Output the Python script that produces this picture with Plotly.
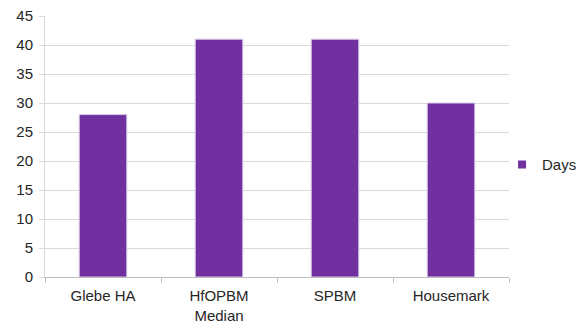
import plotly.graph_objects as go

categories = ["Glebe HA", "HfOPBM<br>Median", "SPBM", "Housemark"]
days = [28, 41, 41, 30]
series_name = "Days"
y_ticks = [0, 5, 10, 15, 20, 25, 30, 35, 40, 45]

fig = go.Figure()
fig.add_trace(go.Bar(
    x=categories, y=days, name=series_name,
    marker=dict(color="#7030A0", line=dict(color="#D9C8E6", width=1)),
    width=0.41, showlegend=False,
))
# legend entry with small square swatch
fig.add_trace(go.Scatter(
    x=[None], y=[None], mode="markers", name=series_name,
    marker=dict(symbol="square", size=8, color="#7030A0"),
    showlegend=True,
))

fig.update_layout(
    width=583, height=326,
    margin=dict(l=45, r=74, t=16, b=49, autoexpand=False),
    paper_bgcolor="white", plot_bgcolor="white",
    font=dict(family="Liberation Sans, Arial, sans-serif", size=15, color="#262626"),
    showlegend=True,
    legend=dict(x=0.985, y=0.43, xanchor="left", yanchor="middle",
                font=dict(size=15, color="#262626"), itemwidth=30,
                bgcolor="rgba(0,0,0,0)"),
)
fig.update_xaxes(
    showline=True, linecolor="#BFBFBF", linewidth=1,
    ticks="outside", tickson="boundaries", ticklen=5, tickcolor="#BFBFBF",
    showgrid=False, tickfont=dict(size=15), ticklabelstandoff=5,
)
fig.update_yaxes(
    range=[0, 45], tickvals=y_ticks,
    showline=True, linecolor="#D9D9D9", linewidth=1,
    ticks="outside", ticklen=5, tickcolor="#D9D9D9",
    showgrid=True, gridcolor="#D9D9D9", gridwidth=1,
    zeroline=False, tickfont=dict(size=15), ticklabelstandoff=3,
)
fig.write_html("out.html")
